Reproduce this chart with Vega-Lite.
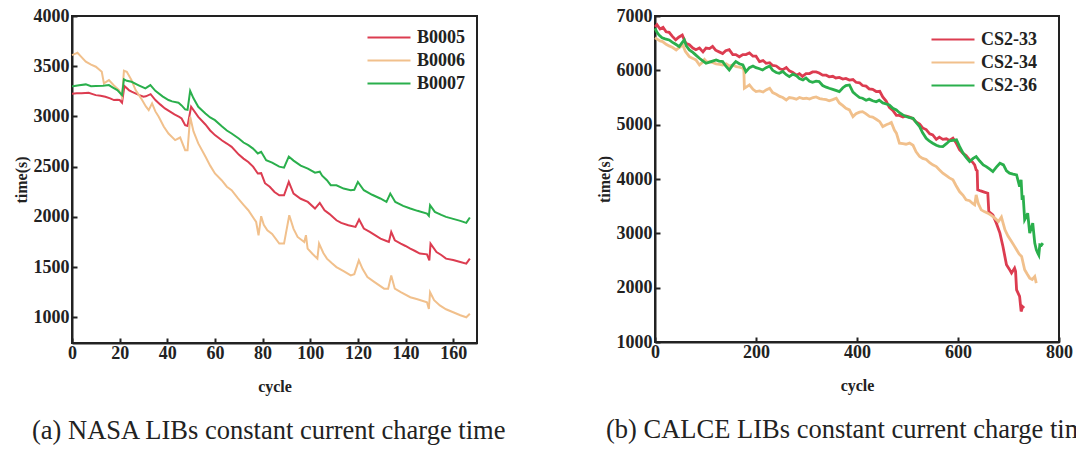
{
"$schema": "https://vega.github.io/schema/vega-lite/v6.json",
"padding": {"left": 12, "top": 6, "right": 0, "bottom": 0},
"bounds": "flush",
"spacing": 178,
"resolve": {"scale": {"color": "independent"}, "legend": {"color": "independent"}},
"config": {
  "font": "Liberation Serif",
  "background": "white",
  "view": {"stroke": "#222", "strokeWidth": 2},
  "axis": {"grid": false, "domainColor": "#222", "domainWidth": 2, "tickColor": "#222", "tickWidth": 2, "tickSize": -5, "format": "d", "labelFlush": false, "labelOverlap": false,
           "labelFont": "Liberation Serif", "labelFontWeight": "bold", "labelFontSize": 18, "labelColor": "#222",
           "titleFont": "Liberation Serif", "titleFontWeight": "bold", "titleFontSize": 16, "titleColor": "#222"},
  "axisX": {"labelPadding": 6, "titlePadding": 16},
  "axisY": {"labelPadding": 8, "titlePadding": 4},
  "legend": {"orient": "none", "title": null, "labelFont": "Liberation Serif", "labelFontWeight": "bold", "labelFontSize": 18, "labelColor": "#222",
             "symbolType": "stroke", "symbolSize": 1850, "symbolStrokeWidth": 2.5, "clipHeight": 23, "rowPadding": 0, "padding": 0, "labelOffset": 5},
  "title": {"font": "Liberation Serif", "fontSize": 26.5, "fontWeight": "normal", "color": "#222", "orient": "bottom", "anchor": "start", "frame": "group"},
  "line": {"strokeWidth": 2}
},
"datasets": {
"nasa": [
{"s":"B0005","c":0,"t":3225},{"s":"B0005","c":2,"t":3230},{"s":"B0005","c":4,"t":3230},{"s":"B0005","c":7,"t":3235},{"s":"B0005","c":9,"t":3220},{"s":"B0005","c":10,"t":3212},{"s":"B0005","c":12,"t":3205},{"s":"B0005","c":14,"t":3196},{"s":"B0005","c":16,"t":3180},{"s":"B0005","c":17.6,"t":3163},{"s":"B0005","c":19,"t":3165},{"s":"B0005","c":20,"t":3163},{"s":"B0005","c":21,"t":3136},{"s":"B0005","c":22,"t":3302},{"s":"B0005","c":24,"t":3260},{"s":"B0005","c":25,"t":3246},{"s":"B0005","c":28,"t":3215},{"s":"B0005","c":30,"t":3196},{"s":"B0005","c":31,"t":3200},{"s":"B0005","c":33,"t":3222},{"s":"B0005","c":35,"t":3163},{"s":"B0005","c":37,"t":3120},{"s":"B0005","c":39,"t":3080},{"s":"B0005","c":41,"t":3050},{"s":"B0005","c":43,"t":3020},{"s":"B0005","c":45,"t":2996},{"s":"B0005","c":46,"t":2980},{"s":"B0005","c":47.5,"t":2913},{"s":"B0005","c":48.5,"t":2905},{"s":"B0005","c":50,"t":3096},{"s":"B0005","c":53,"t":2996},{"s":"B0005","c":56,"t":2920},{"s":"B0005","c":58,"t":2860},{"s":"B0005","c":60,"t":2814},{"s":"B0005","c":63,"t":2760},{"s":"B0005","c":65,"t":2730},{"s":"B0005","c":67,"t":2697},{"s":"B0005","c":70,"t":2620},{"s":"B0005","c":72,"t":2580},{"s":"B0005","c":74,"t":2547},{"s":"B0005","c":76,"t":2500},{"s":"B0005","c":78,"t":2432},{"s":"B0005","c":79.4,"t":2435},{"s":"B0005","c":81,"t":2335},{"s":"B0005","c":83,"t":2300},{"s":"B0005","c":85,"t":2248},{"s":"B0005","c":87,"t":2215},{"s":"B0005","c":89,"t":2215},{"s":"B0005","c":91,"t":2348},{"s":"B0005","c":93,"t":2232},{"s":"B0005","c":96,"t":2180},{"s":"B0005","c":99,"t":2149},{"s":"B0005","c":102,"t":2083},{"s":"B0005","c":104,"t":2139},{"s":"B0005","c":106,"t":2066},{"s":"B0005","c":108,"t":2030},{"s":"B0005","c":111,"t":1966},{"s":"B0005","c":113,"t":1940},{"s":"B0005","c":116,"t":1917},{"s":"B0005","c":119,"t":1900},{"s":"B0005","c":120.5,"t":1973},{"s":"B0005","c":122.5,"t":1884},{"s":"B0005","c":125,"t":1850},{"s":"B0005","c":127,"t":1820},{"s":"B0005","c":129.5,"t":1784},{"s":"B0005","c":132,"t":1760},{"s":"B0005","c":133,"t":1750},{"s":"B0005","c":134,"t":1850},{"s":"B0005","c":135.5,"t":1767},{"s":"B0005","c":138,"t":1734},{"s":"B0005","c":140,"t":1710},{"s":"B0005","c":142,"t":1684},{"s":"B0005","c":144,"t":1660},{"s":"B0005","c":146,"t":1634},{"s":"B0005","c":149,"t":1627},{"s":"B0005","c":150,"t":1567},{"s":"B0005","c":150.5,"t":1734},{"s":"B0005","c":153,"t":1650},{"s":"B0005","c":155,"t":1620},{"s":"B0005","c":157,"t":1584},{"s":"B0005","c":160,"t":1570},{"s":"B0005","c":163,"t":1550},{"s":"B0005","c":165.5,"t":1534},{"s":"B0005","c":167,"t":1584},
{"s":"B0006","c":0,"t":3611},{"s":"B0006","c":1,"t":3620},{"s":"B0006","c":2.3,"t":3634},{"s":"B0006","c":4,"t":3590},{"s":"B0006","c":5.8,"t":3545},{"s":"B0006","c":8,"t":3515},{"s":"B0006","c":10,"t":3495},{"s":"B0006","c":12.5,"t":3445},{"s":"B0006","c":13.4,"t":3329},{"s":"B0006","c":15.5,"t":3362},{"s":"B0006","c":17.5,"t":3310},{"s":"B0006","c":19.7,"t":3262},{"s":"B0006","c":21,"t":3196},{"s":"B0006","c":21.8,"t":3455},{"s":"B0006","c":23,"t":3445},{"s":"B0006","c":25,"t":3360},{"s":"B0006","c":26.7,"t":3262},{"s":"B0006","c":29,"t":3180},{"s":"B0006","c":31,"t":3100},{"s":"B0006","c":32.2,"t":3063},{"s":"B0006","c":33.6,"t":3130},{"s":"B0006","c":35,"t":3050},{"s":"B0006","c":36.4,"t":2996},{"s":"B0006","c":38.5,"t":2900},{"s":"B0006","c":40.5,"t":2830},{"s":"B0006","c":43.3,"t":2764},{"s":"B0006","c":45.4,"t":2790},{"s":"B0006","c":47.5,"t":2664},{"s":"B0006","c":48.5,"t":2664},{"s":"B0006","c":49.6,"t":2996},{"s":"B0006","c":51,"t":2850},{"s":"B0006","c":53,"t":2731},{"s":"B0006","c":56,"t":2600},{"s":"B0006","c":58,"t":2510},{"s":"B0006","c":60,"t":2432},{"s":"B0006","c":62.8,"t":2365},{"s":"B0006","c":65,"t":2300},{"s":"B0006","c":67,"t":2265},{"s":"B0006","c":69.7,"t":2183},{"s":"B0006","c":72,"t":2120},{"s":"B0006","c":74,"t":2066},{"s":"B0006","c":77.3,"t":1949},{"s":"B0006","c":78.3,"t":1817},{"s":"B0006","c":79.4,"t":2006},{"s":"B0006","c":80.5,"t":1920},{"s":"B0006","c":82,"t":1867},{"s":"B0006","c":84,"t":1830},{"s":"B0006","c":87,"t":1734},{"s":"B0006","c":89,"t":1734},{"s":"B0006","c":91.2,"t":2016},{"s":"B0006","c":93,"t":1880},{"s":"B0006","c":94.7,"t":1800},{"s":"B0006","c":97.5,"t":1750},{"s":"B0006","c":98.2,"t":1817},{"s":"B0006","c":98.9,"t":1684},{"s":"B0006","c":101,"t":1630},{"s":"B0006","c":103,"t":1584},{"s":"B0006","c":103.7,"t":1734},{"s":"B0006","c":105.5,"t":1640},{"s":"B0006","c":107,"t":1584},{"s":"B0006","c":109,"t":1540},{"s":"B0006","c":111,"t":1500},{"s":"B0006","c":114,"t":1460},{"s":"B0006","c":117,"t":1417},{"s":"B0006","c":118.5,"t":1430},{"s":"B0006","c":120.4,"t":1567},{"s":"B0006","c":122,"t":1480},{"s":"B0006","c":124,"t":1400},{"s":"B0006","c":127,"t":1350},{"s":"B0006","c":131,"t":1285},{"s":"B0006","c":132.7,"t":1285},{"s":"B0006","c":134,"t":1417},{"s":"B0006","c":135.5,"t":1285},{"s":"B0006","c":138,"t":1250},{"s":"B0006","c":142,"t":1200},{"s":"B0006","c":145,"t":1180},{"s":"B0006","c":149,"t":1150},{"s":"B0006","c":149.8,"t":1084},{"s":"B0006","c":150.3,"t":1250},{"s":"B0006","c":152,"t":1170},{"s":"B0006","c":154.4,"t":1118},{"s":"B0006","c":157,"t":1080},{"s":"B0006","c":160,"t":1050},{"s":"B0006","c":163,"t":1020},{"s":"B0006","c":165.5,"t":1000},{"s":"B0006","c":167,"t":1035},
{"s":"B0007","c":0,"t":3300},{"s":"B0007","c":1,"t":3302},{"s":"B0007","c":3,"t":3310},{"s":"B0007","c":5.8,"t":3319},{"s":"B0007","c":8,"t":3300},{"s":"B0007","c":10,"t":3302},{"s":"B0007","c":13,"t":3305},{"s":"B0007","c":15.5,"t":3312},{"s":"B0007","c":17,"t":3290},{"s":"B0007","c":19,"t":3262},{"s":"B0007","c":21,"t":3212},{"s":"B0007","c":21.8,"t":3369},{"s":"B0007","c":23,"t":3355},{"s":"B0007","c":25,"t":3345},{"s":"B0007","c":28,"t":3310},{"s":"B0007","c":30.8,"t":3279},{"s":"B0007","c":32.9,"t":3312},{"s":"B0007","c":35,"t":3255},{"s":"B0007","c":38,"t":3200},{"s":"B0007","c":40.5,"t":3163},{"s":"B0007","c":42,"t":3150},{"s":"B0007","c":44.7,"t":3136},{"s":"B0007","c":46,"t":3110},{"s":"B0007","c":47.5,"t":3070},{"s":"B0007","c":48.5,"t":3065},{"s":"B0007","c":49.6,"t":3255},{"s":"B0007","c":51,"t":3180},{"s":"B0007","c":53,"t":3096},{"s":"B0007","c":56,"t":3030},{"s":"B0007","c":58,"t":2990},{"s":"B0007","c":60,"t":2963},{"s":"B0007","c":63,"t":2900},{"s":"B0007","c":65,"t":2860},{"s":"B0007","c":67,"t":2830},{"s":"B0007","c":70,"t":2780},{"s":"B0007","c":72,"t":2740},{"s":"B0007","c":74,"t":2714},{"s":"B0007","c":76,"t":2680},{"s":"B0007","c":78,"t":2631},{"s":"B0007","c":79.4,"t":2648},{"s":"B0007","c":81.5,"t":2564},{"s":"B0007","c":84,"t":2540},{"s":"B0007","c":87,"t":2500},{"s":"B0007","c":89,"t":2490},{"s":"B0007","c":91,"t":2600},{"s":"B0007","c":93,"t":2560},{"s":"B0007","c":96,"t":2510},{"s":"B0007","c":99,"t":2480},{"s":"B0007","c":102,"t":2440},{"s":"B0007","c":104,"t":2450},{"s":"B0007","c":105,"t":2410},{"s":"B0007","c":107,"t":2365},{"s":"B0007","c":108.6,"t":2315},{"s":"B0007","c":111,"t":2315},{"s":"B0007","c":114,"t":2282},{"s":"B0007","c":117,"t":2265},{"s":"B0007","c":118.5,"t":2270},{"s":"B0007","c":120,"t":2348},{"s":"B0007","c":122.5,"t":2265},{"s":"B0007","c":126,"t":2220},{"s":"B0007","c":129.4,"t":2183},{"s":"B0007","c":132,"t":2149},{"s":"B0007","c":133.6,"t":2232},{"s":"B0007","c":135.7,"t":2149},{"s":"B0007","c":139,"t":2110},{"s":"B0007","c":142,"t":2083},{"s":"B0007","c":145,"t":2060},{"s":"B0007","c":149,"t":2033},{"s":"B0007","c":149.8,"t":2010},{"s":"B0007","c":150.3,"t":2116},{"s":"B0007","c":152.3,"t":2050},{"s":"B0007","c":155,"t":2020},{"s":"B0007","c":157,"t":2000},{"s":"B0007","c":160,"t":1980},{"s":"B0007","c":163,"t":1960},{"s":"B0007","c":165.5,"t":1940},{"s":"B0007","c":167,"t":1993}
],
"calce": [
{"s":"CS2-33","c":0,"t":6800},{"s":"CS2-33","c":4,"t":6840},{"s":"CS2-33","c":10,"t":6760},{"s":"CS2-33","c":16,"t":6790},{"s":"CS2-33","c":22,"t":6710},{"s":"CS2-33","c":28,"t":6700},{"s":"CS2-33","c":34,"t":6630},{"s":"CS2-33","c":41,"t":6560},{"s":"CS2-33","c":47,"t":6610},{"s":"CS2-33","c":54,"t":6650},{"s":"CS2-33","c":58,"t":6560},{"s":"CS2-33","c":61,"t":6500},{"s":"CS2-33","c":68,"t":6470},{"s":"CS2-33","c":75,"t":6410},{"s":"CS2-33","c":81,"t":6380},{"s":"CS2-33","c":88,"t":6410},{"s":"CS2-33","c":95,"t":6340},{"s":"CS2-33","c":101,"t":6410},{"s":"CS2-33","c":108,"t":6400},{"s":"CS2-33","c":114,"t":6440},{"s":"CS2-33","c":120,"t":6370},{"s":"CS2-33","c":127,"t":6340},{"s":"CS2-33","c":134,"t":6310},{"s":"CS2-33","c":140,"t":6360},{"s":"CS2-33","c":147,"t":6380},{"s":"CS2-33","c":154,"t":6290},{"s":"CS2-33","c":160,"t":6290},{"s":"CS2-33","c":167,"t":6250},{"s":"CS2-33","c":174,"t":6290},{"s":"CS2-33","c":180,"t":6290},{"s":"CS2-33","c":187,"t":6320},{"s":"CS2-33","c":194,"t":6260},{"s":"CS2-33","c":200,"t":6260},{"s":"CS2-33","c":207,"t":6160},{"s":"CS2-33","c":214,"t":6180},{"s":"CS2-33","c":220,"t":6130},{"s":"CS2-33","c":227,"t":6140},{"s":"CS2-33","c":233,"t":6090},{"s":"CS2-33","c":240,"t":6080},{"s":"CS2-33","c":247,"t":6030},{"s":"CS2-33","c":253,"t":6010},{"s":"CS2-33","c":260,"t":6050},{"s":"CS2-33","c":266,"t":5990},{"s":"CS2-33","c":273,"t":5960},{"s":"CS2-33","c":280,"t":5910},{"s":"CS2-33","c":286,"t":5940},{"s":"CS2-33","c":292,"t":5890},{"s":"CS2-33","c":299,"t":5940},{"s":"CS2-33","c":306,"t":5940},{"s":"CS2-33","c":312,"t":5970},{"s":"CS2-33","c":319,"t":5970},{"s":"CS2-33","c":325,"t":5950},{"s":"CS2-33","c":332,"t":5910},{"s":"CS2-33","c":339,"t":5910},{"s":"CS2-33","c":345,"t":5880},{"s":"CS2-33","c":352,"t":5890},{"s":"CS2-33","c":358,"t":5860},{"s":"CS2-33","c":365,"t":5870},{"s":"CS2-33","c":372,"t":5840},{"s":"CS2-33","c":378,"t":5850},{"s":"CS2-33","c":385,"t":5820},{"s":"CS2-33","c":392,"t":5830},{"s":"CS2-33","c":398,"t":5780},{"s":"CS2-33","c":405,"t":5770},{"s":"CS2-33","c":411,"t":5720},{"s":"CS2-33","c":418,"t":5710},{"s":"CS2-33","c":424,"t":5660},{"s":"CS2-33","c":431,"t":5650},{"s":"CS2-33","c":438,"t":5610},{"s":"CS2-33","c":445,"t":5615},{"s":"CS2-33","c":451,"t":5510},{"s":"CS2-33","c":458,"t":5430},{"s":"CS2-33","c":464,"t":5320},{"s":"CS2-33","c":471,"t":5260},{"s":"CS2-33","c":478,"t":5170},{"s":"CS2-33","c":484,"t":5170},{"s":"CS2-33","c":491,"t":5140},{"s":"CS2-33","c":497,"t":5160},{"s":"CS2-33","c":504,"t":5140},{"s":"CS2-33","c":511,"t":5110},{"s":"CS2-33","c":517,"t":5050},{"s":"CS2-33","c":524,"t":5010},{"s":"CS2-33","c":530,"t":4940},{"s":"CS2-33","c":537,"t":4910},{"s":"CS2-33","c":544,"t":4830},{"s":"CS2-33","c":550,"t":4810},{"s":"CS2-33","c":557,"t":4730},{"s":"CS2-33","c":563,"t":4770},{"s":"CS2-33","c":570,"t":4730},{"s":"CS2-33","c":577,"t":4740},{"s":"CS2-33","c":583,"t":4710},{"s":"CS2-33","c":590,"t":4750},{"s":"CS2-33","c":596,"t":4670},{"s":"CS2-33","c":603,"t":4540},{"s":"CS2-33","c":610,"t":4470},{"s":"CS2-33","c":616,"t":4430},{"s":"CS2-33","c":623,"t":4350},{"s":"CS2-33","c":629,"t":4310},{"s":"CS2-33","c":633,"t":4260},{"s":"CS2-33","c":636,"t":4168},{"s":"CS2-33","c":638,"t":4150},{"s":"CS2-33","c":639,"t":3800},{"s":"CS2-33","c":645,"t":3780},{"s":"CS2-33","c":652,"t":3760},{"s":"CS2-33","c":659,"t":3739},{"s":"CS2-33","c":661,"t":3400},{"s":"CS2-33","c":669,"t":3340},{"s":"CS2-33","c":676,"t":3187},{"s":"CS2-33","c":683,"t":3004},{"s":"CS2-33","c":689,"t":2757},{"s":"CS2-33","c":696,"t":2421},{"s":"CS2-33","c":701,"t":2350},{"s":"CS2-33","c":706,"t":2268},{"s":"CS2-33","c":712,"t":2360},{"s":"CS2-33","c":714,"t":2300},{"s":"CS2-33","c":716,"t":1961},{"s":"CS2-33","c":722,"t":1839},{"s":"CS2-33","c":725,"t":1562},{"s":"CS2-33","c":728,"t":1650},{"s":"CS2-33","c":731,"t":1624},
{"s":"CS2-34","c":0,"t":6600},{"s":"CS2-34","c":5,"t":6570},{"s":"CS2-34","c":10,"t":6540},{"s":"CS2-34","c":15,"t":6530},{"s":"CS2-34","c":22,"t":6480},{"s":"CS2-34","c":28,"t":6450},{"s":"CS2-34","c":35,"t":6420},{"s":"CS2-34","c":42,"t":6375},{"s":"CS2-34","c":48,"t":6420},{"s":"CS2-34","c":55,"t":6467},{"s":"CS2-34","c":60,"t":6350},{"s":"CS2-34","c":68,"t":6252},{"s":"CS2-34","c":75,"t":6220},{"s":"CS2-34","c":81,"t":6191},{"s":"CS2-34","c":88,"t":6099},{"s":"CS2-34","c":94,"t":6150},{"s":"CS2-34","c":98,"t":6200},{"s":"CS2-34","c":103,"t":6150},{"s":"CS2-34","c":108,"t":6160},{"s":"CS2-34","c":115,"t":6140},{"s":"CS2-34","c":121,"t":6120},{"s":"CS2-34","c":128,"t":6110},{"s":"CS2-34","c":134,"t":6099},{"s":"CS2-34","c":141,"t":6120},{"s":"CS2-34","c":147,"t":6080},{"s":"CS2-34","c":154,"t":6099},{"s":"CS2-34","c":161,"t":6070},{"s":"CS2-34","c":167,"t":6060},{"s":"CS2-34","c":174,"t":6038},{"s":"CS2-34","c":176,"t":6000},{"s":"CS2-34","c":177,"t":5670},{"s":"CS2-34","c":182,"t":5700},{"s":"CS2-34","c":187,"t":5731},{"s":"CS2-34","c":194,"t":5650},{"s":"CS2-34","c":200,"t":5609},{"s":"CS2-34","c":207,"t":5620},{"s":"CS2-34","c":214,"t":5600},{"s":"CS2-34","c":220,"t":5640},{"s":"CS2-34","c":227,"t":5670},{"s":"CS2-34","c":233,"t":5590},{"s":"CS2-34","c":240,"t":5560},{"s":"CS2-34","c":247,"t":5520},{"s":"CS2-34","c":253,"t":5500},{"s":"CS2-34","c":260,"t":5455},{"s":"CS2-34","c":266,"t":5500},{"s":"CS2-34","c":273,"t":5490},{"s":"CS2-34","c":280,"t":5470},{"s":"CS2-34","c":286,"t":5500},{"s":"CS2-34","c":293,"t":5480},{"s":"CS2-34","c":300,"t":5486},{"s":"CS2-34","c":306,"t":5470},{"s":"CS2-34","c":313,"t":5500},{"s":"CS2-34","c":319,"t":5510},{"s":"CS2-34","c":326,"t":5480},{"s":"CS2-34","c":332,"t":5470},{"s":"CS2-34","c":339,"t":5460},{"s":"CS2-34","c":345,"t":5440},{"s":"CS2-34","c":352,"t":5460},{"s":"CS2-34","c":359,"t":5486},{"s":"CS2-34","c":365,"t":5400},{"s":"CS2-34","c":372,"t":5350},{"s":"CS2-34","c":378,"t":5300},{"s":"CS2-34","c":385,"t":5271},{"s":"CS2-34","c":392,"t":5148},{"s":"CS2-34","c":398,"t":5200},{"s":"CS2-34","c":405,"t":5230},{"s":"CS2-34","c":411,"t":5240},{"s":"CS2-34","c":418,"t":5200},{"s":"CS2-34","c":425,"t":5150},{"s":"CS2-34","c":431,"t":5140},{"s":"CS2-34","c":438,"t":5100},{"s":"CS2-34","c":445,"t":5056},{"s":"CS2-34","c":451,"t":4965},{"s":"CS2-34","c":458,"t":5000},{"s":"CS2-34","c":464,"t":5020},{"s":"CS2-34","c":468,"t":5040},{"s":"CS2-34","c":474,"t":4900},{"s":"CS2-34","c":478,"t":4843},{"s":"CS2-34","c":484,"t":4659},{"s":"CS2-34","c":491,"t":4650},{"s":"CS2-34","c":497,"t":4640},{"s":"CS2-34","c":504,"t":4660},{"s":"CS2-34","c":511,"t":4620},{"s":"CS2-34","c":517,"t":4500},{"s":"CS2-34","c":524,"t":4413},{"s":"CS2-34","c":530,"t":4380},{"s":"CS2-34","c":537,"t":4360},{"s":"CS2-34","c":544,"t":4300},{"s":"CS2-34","c":550,"t":4260},{"s":"CS2-34","c":557,"t":4229},{"s":"CS2-34","c":563,"t":4170},{"s":"CS2-34","c":570,"t":4107},{"s":"CS2-34","c":577,"t":4060},{"s":"CS2-34","c":583,"t":4020},{"s":"CS2-34","c":590,"t":3984},{"s":"CS2-34","c":596,"t":3880},{"s":"CS2-34","c":603,"t":3769},{"s":"CS2-34","c":610,"t":3700},{"s":"CS2-34","c":616,"t":3616},{"s":"CS2-34","c":623,"t":3600},{"s":"CS2-34","c":629,"t":3550},{"s":"CS2-34","c":633,"t":3524},{"s":"CS2-34","c":636,"t":3708},{"s":"CS2-34","c":640,"t":3550},{"s":"CS2-34","c":646,"t":3432},{"s":"CS2-34","c":652,"t":3400},{"s":"CS2-34","c":659,"t":3371},{"s":"CS2-34","c":666,"t":3330},{"s":"CS2-34","c":673,"t":3280},{"s":"CS2-34","c":680,"t":3217},{"s":"CS2-34","c":686,"t":3300},{"s":"CS2-34","c":693,"t":3065},{"s":"CS2-34","c":699,"t":2950},{"s":"CS2-34","c":706,"t":2849},{"s":"CS2-34","c":712,"t":2760},{"s":"CS2-34","c":716,"t":2697},{"s":"CS2-34","c":721,"t":2620},{"s":"CS2-34","c":726,"t":2574},{"s":"CS2-34","c":732,"t":2329},{"s":"CS2-34","c":737,"t":2250},{"s":"CS2-34","c":742,"t":2176},{"s":"CS2-34","c":747,"t":2150},{"s":"CS2-34","c":752,"t":2206},{"s":"CS2-34","c":755,"t":2084},
{"s":"CS2-36","c":0,"t":6773},{"s":"CS2-36","c":4,"t":6700},{"s":"CS2-36","c":8,"t":6650},{"s":"CS2-36","c":14,"t":6600},{"s":"CS2-36","c":20,"t":6580},{"s":"CS2-36","c":28,"t":6559},{"s":"CS2-36","c":34,"t":6520},{"s":"CS2-36","c":41,"t":6480},{"s":"CS2-36","c":48,"t":6436},{"s":"CS2-36","c":53,"t":6500},{"s":"CS2-36","c":58,"t":6559},{"s":"CS2-36","c":62,"t":6450},{"s":"CS2-36","c":68,"t":6375},{"s":"CS2-36","c":75,"t":6330},{"s":"CS2-36","c":81,"t":6280},{"s":"CS2-36","c":88,"t":6222},{"s":"CS2-36","c":94,"t":6180},{"s":"CS2-36","c":101,"t":6130},{"s":"CS2-36","c":108,"t":6150},{"s":"CS2-36","c":114,"t":6170},{"s":"CS2-36","c":121,"t":6191},{"s":"CS2-36","c":127,"t":6170},{"s":"CS2-36","c":134,"t":6160},{"s":"CS2-36","c":140,"t":6080},{"s":"CS2-36","c":147,"t":6007},{"s":"CS2-36","c":154,"t":6100},{"s":"CS2-36","c":160,"t":6160},{"s":"CS2-36","c":167,"t":6120},{"s":"CS2-36","c":174,"t":6100},{"s":"CS2-36","c":180,"t":5976},{"s":"CS2-36","c":187,"t":6050},{"s":"CS2-36","c":194,"t":6080},{"s":"CS2-36","c":200,"t":6050},{"s":"CS2-36","c":207,"t":6030},{"s":"CS2-36","c":213,"t":6007},{"s":"CS2-36","c":220,"t":6050},{"s":"CS2-36","c":227,"t":6080},{"s":"CS2-36","c":233,"t":6000},{"s":"CS2-36","c":240,"t":5960},{"s":"CS2-36","c":246,"t":5946},{"s":"CS2-36","c":253,"t":5980},{"s":"CS2-36","c":260,"t":5920},{"s":"CS2-36","c":266,"t":5884},{"s":"CS2-36","c":273,"t":5930},{"s":"CS2-36","c":280,"t":5900},{"s":"CS2-36","c":286,"t":5850},{"s":"CS2-36","c":293,"t":5823},{"s":"CS2-36","c":299,"t":5860},{"s":"CS2-36","c":306,"t":5800},{"s":"CS2-36","c":312,"t":5780},{"s":"CS2-36","c":319,"t":5800},{"s":"CS2-36","c":325,"t":5792},{"s":"CS2-36","c":332,"t":5720},{"s":"CS2-36","c":339,"t":5690},{"s":"CS2-36","c":345,"t":5670},{"s":"CS2-36","c":352,"t":5650},{"s":"CS2-36","c":358,"t":5630},{"s":"CS2-36","c":365,"t":5608},{"s":"CS2-36","c":372,"t":5680},{"s":"CS2-36","c":378,"t":5720},{"s":"CS2-36","c":385,"t":5731},{"s":"CS2-36","c":392,"t":5600},{"s":"CS2-36","c":398,"t":5550},{"s":"CS2-36","c":405,"t":5500},{"s":"CS2-36","c":411,"t":5486},{"s":"CS2-36","c":418,"t":5450},{"s":"CS2-36","c":424,"t":5470},{"s":"CS2-36","c":431,"t":5440},{"s":"CS2-36","c":438,"t":5420},{"s":"CS2-36","c":444,"t":5450},{"s":"CS2-36","c":451,"t":5400},{"s":"CS2-36","c":458,"t":5380},{"s":"CS2-36","c":464,"t":5363},{"s":"CS2-36","c":471,"t":5300},{"s":"CS2-36","c":478,"t":5271},{"s":"CS2-36","c":484,"t":5220},{"s":"CS2-36","c":491,"t":5180},{"s":"CS2-36","c":497,"t":5150},{"s":"CS2-36","c":504,"t":5130},{"s":"CS2-36","c":511,"t":5118},{"s":"CS2-36","c":517,"t":5040},{"s":"CS2-36","c":524,"t":4965},{"s":"CS2-36","c":530,"t":4850},{"s":"CS2-36","c":537,"t":4750},{"s":"CS2-36","c":543,"t":4700},{"s":"CS2-36","c":550,"t":4659},{"s":"CS2-36","c":557,"t":4620},{"s":"CS2-36","c":563,"t":4600},{"s":"CS2-36","c":570,"t":4597},{"s":"CS2-36","c":577,"t":4650},{"s":"CS2-36","c":583,"t":4700},{"s":"CS2-36","c":590,"t":4710},{"s":"CS2-36","c":597,"t":4720},{"s":"CS2-36","c":603,"t":4600},{"s":"CS2-36","c":610,"t":4475},{"s":"CS2-36","c":616,"t":4400},{"s":"CS2-36","c":623,"t":4321},{"s":"CS2-36","c":630,"t":4380},{"s":"CS2-36","c":636,"t":4413},{"s":"CS2-36","c":643,"t":4330},{"s":"CS2-36","c":650,"t":4260},{"s":"CS2-36","c":656,"t":4229},{"s":"CS2-36","c":663,"t":4180},{"s":"CS2-36","c":669,"t":4137},{"s":"CS2-36","c":676,"t":4220},{"s":"CS2-36","c":683,"t":4291},{"s":"CS2-36","c":690,"t":4260},{"s":"CS2-36","c":696,"t":4150},{"s":"CS2-36","c":702,"t":4107},{"s":"CS2-36","c":709,"t":4090},{"s":"CS2-36","c":716,"t":4076},{"s":"CS2-36","c":722,"t":3861},{"s":"CS2-36","c":725,"t":3984},{"s":"CS2-36","c":727,"t":3616},{"s":"CS2-36","c":729,"t":3700},{"s":"CS2-36","c":732,"t":3248},{"s":"CS2-36","c":735,"t":3300},{"s":"CS2-36","c":738,"t":3371},{"s":"CS2-36","c":742,"t":3004},{"s":"CS2-36","c":745,"t":3100},{"s":"CS2-36","c":748,"t":3187},{"s":"CS2-36","c":752,"t":2820},{"s":"CS2-36","c":755,"t":2700},{"s":"CS2-36","c":758,"t":2636},{"s":"CS2-36","c":760,"t":2600},{"s":"CS2-36","c":762,"t":2789},{"s":"CS2-36","c":765,"t":2780},{"s":"CS2-36","c":768,"t":2820}
]
},
"hconcat": [
{
  "width": 405, "height": 327,
  "data": {"name": "nasa"},
  "title": {"text": "(a) NASA LIBs constant current charge time", "dx": -40, "offset": 24},
  "mark": {"type": "line", "strokeWidth": 2},
  "encoding": {
    "x": {"field": "c", "type": "quantitative", "title": "cycle", "scale": {"domain": [0, 170], "nice": false, "zero": false}, "axis": {"values": [0,20,40,60,80,100,120,140,160], "format": "d", "labelFont": "Liberation Serif", "titleFont": "Liberation Serif"}},
    "y": {"field": "t", "type": "quantitative", "title": "time(s)", "scale": {"domain": [744, 4000], "nice": false, "zero": false}, "axis": {"values": [1000,1500,2000,2500,3000,3500,4000], "format": "d", "labelFont": "Liberation Serif", "titleFont": "Liberation Serif"}},
    "color": {"field": "s", "type": "nominal", "scale": {"domain": ["B0005","B0006","B0007"], "range": ["#dc3c50","#f1c08c","#2aaf4c"]}, "legend": {"legendX": 294, "legendY": 10, "labelFont": "Liberation Serif"}},
    "order": {"field": "c", "type": "quantitative"}
  }
},
{
  "width": 404, "height": 326,
  "data": {"name": "calce"},
  "title": {"text": "(b) CALCE LIBs constant current charge time", "dx": -49, "offset": 24},
  "mark": {"type": "line", "strokeWidth": 2.8},
  "encoding": {
    "x": {"field": "c", "type": "quantitative", "title": "cycle", "scale": {"domain": [0, 800], "nice": false, "zero": false}, "axis": {"values": [0,200,400,600,800], "format": "d", "labelFont": "Liberation Serif", "titleFont": "Liberation Serif"}},
    "y": {"field": "t", "type": "quantitative", "title": "time(s)", "scale": {"domain": [1000, 7000], "nice": false, "zero": false}, "axis": {"values": [1000,2000,3000,4000,5000,6000,7000], "format": "d", "labelFont": "Liberation Serif", "titleFont": "Liberation Serif"}},
    "color": {"field": "s", "type": "nominal", "scale": {"domain": ["CS2-33","CS2-34","CS2-36"], "range": ["#dc3c50","#f1c08c","#2aaf4c"]}, "legend": {"legendX": 275, "legendY": 12, "labelFont": "Liberation Serif"}},
    "order": {"field": "c", "type": "quantitative"}
  }
}
]
}
